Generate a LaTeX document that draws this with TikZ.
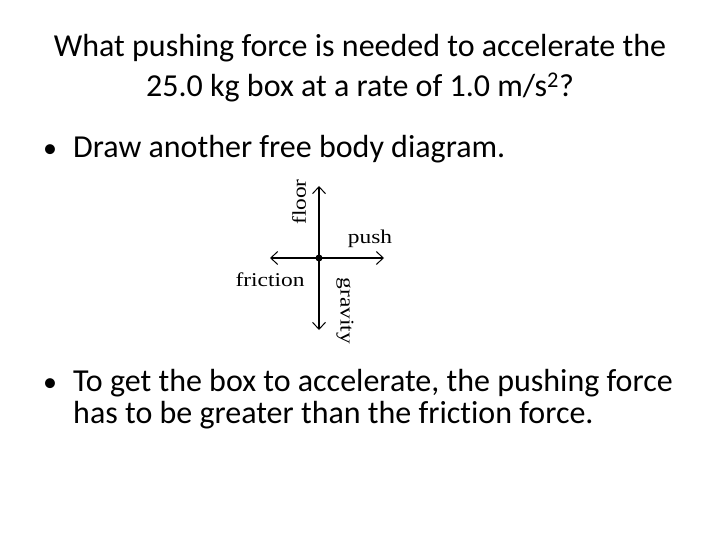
\documentclass[tikz,border=0pt]{standalone}
\usepackage{fontspec}
\setmainfont{Carlito}[Ligatures={NoCommon}]
\newfontfamily\fbdfont[FakeStretch=1.2]{Liberation Serif}
\usetikzlibrary{arrows.meta}
\begin{document}
\begin{tikzpicture}[x=1pt,y=-1pt,
  titletext/.style={font=\fontsize{32}{38}\selectfont, anchor=base, inner sep=0},
  bullettext/.style={font=\fontsize{32}{38}\selectfont, anchor=base west, inner sep=0},
  bulletmark/.style={font=\fontsize{28}{32}\selectfont, anchor=base west, inner sep=0},
  force/.style={line width=1.5pt, -{Straight Barb[length=7pt,width=13pt,line width=1pt]}},
  lbl/.style={font=\fbdfont\fontsize{19.5}{20}\selectfont, inner sep=0},
  dot/.style={circle, fill=black, inner sep=0, minimum size=7pt}
]
\fill[white] (0,0) rectangle (720,540);
\useasboundingbox (0,0) rectangle (720,540);
\node[titletext] (t1) at (360,57) {What pushing force is needed to accelerate the};
\node[titletext] (t2) at (360,97) {25.0 kg box at a rate of 1.0 m/s\textsuperscript{2}?};

\node[bulletmark] (b1) at (43,158) {•};
\node[bullettext] (l1) at (73,158) {Draw another free body diagram.};

\node[bulletmark] (b2) at (43,391) {•};
\node[bullettext] (l2a) at (73,391) {To get the box to accelerate, the pushing force};
\node[bullettext] (l2b) at (73,423) {has to be greater than the friction force.};

\node[dot] (c) at (319,258) {};
\coordinate (up) at (319,186);
\coordinate (down) at (319,330);
\coordinate (left) at (270,258);
\coordinate (right) at (384,258);
\draw[force] (c.center) -- (up);
\draw[force] (c.center) -- (down);
\draw[force] (c.center) -- (left);
\draw[force] (c.center) -- (right);

\node[lbl, rotate=90] (floor) at (299,202) {floor};
\node[lbl] (push) at (370,239) {push};
\node[lbl] (friction) at (270,280) {friction};
\node[lbl, rotate=-90] (gravity) at (345,311) {gravity};
\end{tikzpicture}
\end{document}
